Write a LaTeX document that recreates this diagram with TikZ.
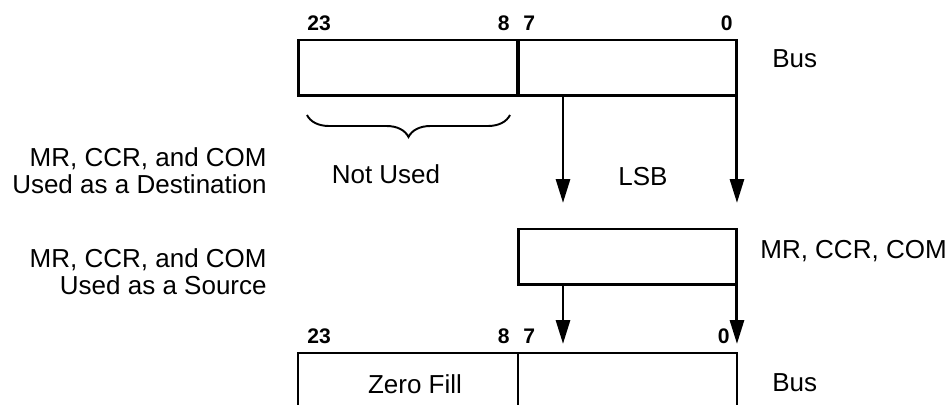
\documentclass[tikz,border=0pt]{standalone}
\usepackage{fontspec}
\setmainfont{Liberation Sans}
\usetikzlibrary{arrows.meta,decorations.pathreplacing}

\begin{document}
\begin{tikzpicture}[x=0.02cm, y=-0.02cm, >={Triangle[length=0.48cm,width=0.28cm]},
    field/.style={draw, line width=1.7pt, minimum height=1.12cm, inner sep=0pt, outer sep=0pt},
    lbl/.style={inner sep=0pt, font=\fontsize{14.8}{15.4}\selectfont},
    bitno/.style={inner sep=0pt, font=\fontsize{12}{14}\selectfont\bfseries}]
    \useasboundingbox (0,0) rectangle (951,405);

    % 上方总线寄存器 (23..8 | 7..0)
    \node[field, minimum width=4.4cm] (bushi) at (408,68) {};
    \node[field, minimum width=4.38cm] (buslo) at (627.5,68) {};
    \node[bitno, anchor=base west] (t23) at (307,31) {23};
    \node[bitno, anchor=base east] (t8) at (510,31) {8};
    \node[bitno, anchor=base west] (t7) at (523,31) {7};
    \node[bitno, anchor=base east] (t0) at (733,31) {0};
    \node[lbl, anchor=base west] (bustop) at (772,68) {Bus};

    % 未使用部分的花括号
    \coordinate (brR) at (510,115);
    \coordinate (brL) at (307,115);
    \draw[line width=1.1pt, decorate, decoration={brace, amplitude=0.44cm}] (brR) -- (brL);
    \node[lbl] (notused) at (386,174) {Not Used};
    \node[lbl] (lsb) at (643,177) {LSB};

    % 作为目的: 总线 -> 寄存器
    \coordinate (d1) at (563,203);
    \draw[->, line width=1.7pt] (buslo.south -| d1) -- (d1);
    \draw[->, line width=1.7pt] (buslo.south east) -- (buslo.south east |- d1);
    \node[lbl, anchor=north east, align=right] (dest) at (267,147)
        {MR, CCR, and COM\\Used as a Destination};

    % MR, CCR, COM 寄存器
    \node[field, minimum width=4.38cm] (reg) at (627.5,257) {};
    \node[lbl, anchor=base west] (regname) at (760,259) {MR, CCR, COM};
    \node[lbl, anchor=north east, align=right] (src) at (267,248)
        {MR, CCR, and COM\\Used as a Source};

    % 作为源: 寄存器 -> 总线
    \coordinate (u1) at (563,344);
    \draw[->, line width=1.7pt] (reg.south -| u1) -- (u1);
    \draw[->, line width=1.7pt] (reg.south east) -- (reg.south east |- u1);

    % 下方总线 (高位补零)
    \coordinate (zl) at (298,405);
    \coordinate (zm) at (518,405);
    \coordinate (zr) at (737,405);
    \draw[line width=1.7pt] (zl) |- (737,353) -- (zr);
    \draw[line width=1.7pt] (zm) -- (518,353);
    \node[bitno, anchor=base west] (b23) at (307,344) {23};
    \node[bitno, anchor=base east] (b8) at (510,344) {8};
    \node[bitno, anchor=base west] (b7) at (523,344) {7};
    \node[bitno, anchor=base east] (b0) at (730,344) {0};
    \node[lbl] (zero) at (415,384) {Zero Fill};
    \node[lbl, anchor=base west] (busbot) at (772,392) {Bus};
\end{tikzpicture}
\end{document}
